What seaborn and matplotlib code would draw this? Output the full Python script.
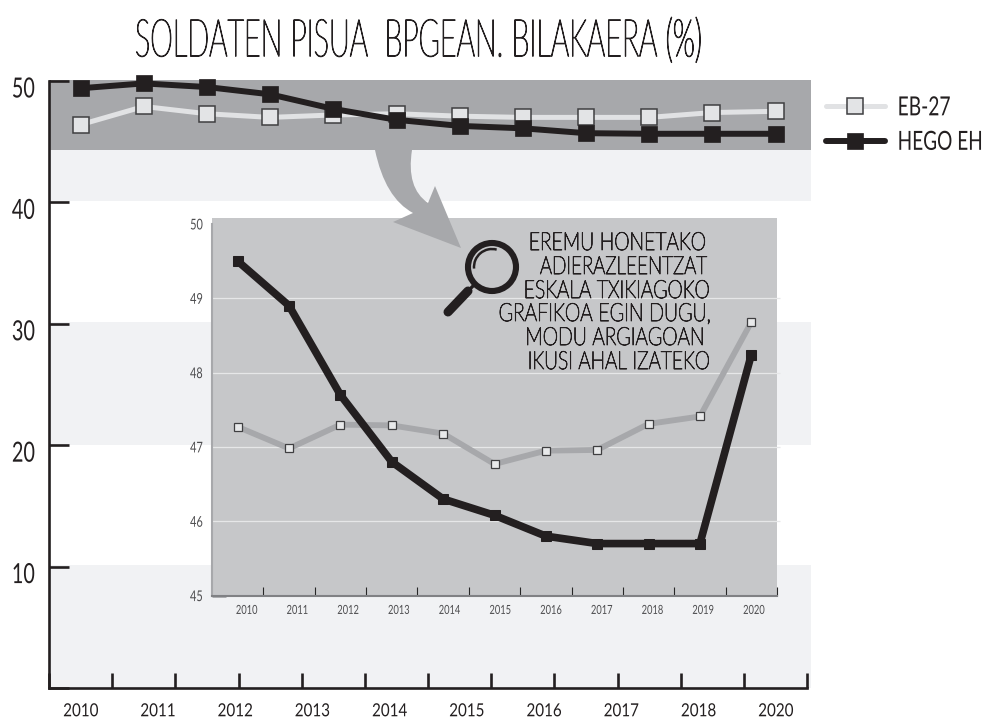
import matplotlib
matplotlib.use('Agg')
from matplotlib import pyplot as plt
from matplotlib.patches import Circle, Arc, PathPatch
from matplotlib.patheffects import AbstractPathEffect
from matplotlib.path import Path
from matplotlib.transforms import Affine2D, Bbox, ScaledTranslation
import numpy as np
import seaborn as sns

# Datuak
urteak_main = ['2010', '2011', '2012', '2013', '2014', '2015', '2016', '2017', '2018', '2020']
urteak_inset = ['2010', '2011', '2012', '2013', '2014', '2015', '2016', '2017', '2018', '2019', '2020']
eb_main = [46.4, 47.9, 47.3, 47.0, 47.2, 47.3, 47.1, 47.0, 47.0, 47.0, 47.4, 47.5]
hego_main = [49.4, 49.8, 49.5, 48.9, 47.7, 46.8, 46.3, 46.1, 45.7, 45.65, 45.65, 45.65]
eb_inset = [47.27, 46.98, 47.3, 47.29, 47.18, 46.77, 46.95, 46.96, 47.31, 47.41, 48.68]
hego_inset = [49.5, 48.9, 47.7, 46.8, 46.3, 46.08, 45.8, 45.7, 45.7, 45.7, 48.24]
titulua = 'SOLDATEN PISUA  BPGEAN. BILAKAERA (%)'
oharra = ['EREMU HONETAKO', 'ADIERAZLEENTZAT', 'ESKALA TXIKIAGOKO',
          'GRAFIKOA EGIN DUGU,', 'MODU ARGIAGOAN', 'IKUSI AHAL IZATEKO']

BELTZA = '#231f20'
GRISA = '#a7a8ab'
ARGIA = '#f1f2f4'
PANEL = '#c6c7c9'
ERTZA = '#3f3f41'
W, H = 986, 718

sns.set_theme(style='white')
plt.rcParams['font.family'] = ['Lato', 'DejaVu Sans']
plt.rcParams['text.color'] = BELTZA


class Estu(AbstractPathEffect):
    # letrak estutu (ez dago letra-tipo estuturik instalatuta)
    def __init__(self, fx, fy, aingura, lodi):
        super().__init__()
        self.fx = fx
        self.fy = fy
        self.aingura = aingura
        self.lodi = lodi

    def draw_path(self, renderer, gc, tpath, affine, rgbFace=None):
        b = tpath.get_extents(affine)
        x0 = b.x0 + self.aingura * b.width
        y0 = 0.5 * (b.y0 + b.y1)
        berria = affine + Affine2D().translate(-x0, -y0).scale(self.fx, self.fy).translate(x0, y0)
        gc0 = renderer.new_gc()
        gc0.copy_properties(gc)
        if self.lodi:
            gc0.set_linewidth(self.lodi)
            gc0.set_foreground(rgbFace)
        renderer.draw_path(gc0, tpath, berria, rgbFace)
        gc0.restore()


def estutu(t, zabalera, aingura, fy=1, lodi=0):
    # testua zabalera (px) horretara ekarri, testu erreala izaten jarraituz
    errenderra = fig.canvas.get_renderer()
    jatorrizkoa = t.get_window_extent
    f = zabalera / jatorrizkoa(errenderra).width
    t.set_path_effects([Estu(f, fy, aingura, lodi)])

    def hedadura(renderer=None, dpi=None):
        b = jatorrizkoa(renderer, dpi)
        x0 = b.x0 + aingura * b.width
        return Bbox.from_extents(x0 + (b.x0 - x0) * f, b.y0, x0 + (b.x1 - x0) * f, b.y1)

    t.get_window_extent = hedadura


def kutxa(x0, y_goi, x1, y_behe):
    # pixeletatik figura koordenatuetara
    return [x0 / W, 1 - y_behe / H, (x1 - x0) / W, (y_behe - y_goi) / H]


fig = plt.figure(figsize=(W / 100, H / 100), dpi=100)

# Grafiko nagusia
ax = fig.add_axes(kutxa(49, 80, 811, 688))
ax.set_xlim(0, 12.06)
ax.set_ylim(0, 50.08)
ax.axhspan(44.3, 50.08, color=GRISA, lw=0, zorder=0)
ax.axhspan(40.15, 44.3, color=ARGIA, lw=0, zorder=0)
ax.axhspan(20.0, 30.15, color=ARGIA, lw=0, zorder=0)
ax.axhspan(0, 10.13, color=ARGIA, lw=0, zorder=0)

x_main = np.arange(len(eb_main)) + 0.5
sns.lineplot(x=x_main, y=eb_main, ax=ax, color='#e1e2e4', linewidth=3.6, marker='s', markersize=11.5,
             markerfacecolor='#e3e4e6', markeredgecolor=ERTZA, markeredgewidth=1.1, clip_on=False,
             label='EB-27', legend=False, zorder=3)
sns.lineplot(x=x_main, y=hego_main, ax=ax, color=BELTZA, linewidth=4.3, marker='s', markersize=12,
             markerfacecolor=BELTZA, markeredgecolor=BELTZA, markeredgewidth=0.5, clip_on=False,
             label='HEGO EH', legend=False, zorder=4)

for s in ['top', 'right']:
    ax.spines[s].set_visible(False)
for s in ['left', 'bottom']:
    ax.spines[s].set_color(BELTZA)
    ax.spines[s].set_linewidth(1.9)
ax.spines['bottom'].set_bounds(0, 12)
ax.spines['left'].set_bounds(0, 50)

ax.set_yticks([0, 10, 20, 30, 40, 50], ['', '10', '20', '30', '40', '50'])
ax.set_xticks(np.arange(0, 13), [''] * 13)
ax.set_xticks(np.linspace(0.5, 11.5, len(urteak_main)), urteak_main, minor=True)
ax.tick_params(axis='y', direction='in', length=14.4, width=1.9, color=BELTZA, left=True,
               labelsize=20, pad=10, labelcolor=BELTZA)
ax.tick_params(axis='x', which='major', direction='in', length=10.8, width=1.9, color=BELTZA, bottom=True)
ax.tick_params(axis='x', which='minor', length=0, labelsize=13, pad=11, labelcolor=BELTZA)
jaitsi = ScaledTranslation(0, -6 / 100, fig.dpi_scale_trans)
for t in ax.get_yticklabels():
    t.set_transform(t.get_transform() + jaitsi)

leg = ax.legend(loc='upper left', bbox_to_anchor=(820 / W, 1 - 93 / H), bbox_transform=fig.transFigure,
                frameon=False, fontsize=14, handlelength=3.05, handletextpad=0.64, labelspacing=0.9,
                borderaxespad=0, borderpad=0.3)
for linea in leg.get_lines():
    linea.set_solid_capstyle('round')

# Barruko grafikoa
ax_in = fig.add_axes(kutxa(212, 218, 777, 595.6), facecolor=PANEL, zorder=2)
ax_in.set_xlim(0, 11)
ax_in.set_ylim(45, 50.08)
x_in = np.arange(len(eb_inset)) + 0.5
ax_in.hlines([46, 47, 48, 49], 0, 11.06, color='#e6e7e8', lw=0.9, clip_on=False, zorder=1)
ax_in.hlines(45, 0, 0.27, color=GRISA, lw=2, clip_on=False, zorder=1)
sns.lineplot(x=x_in, y=eb_inset, ax=ax_in, color=GRISA, linewidth=4.2, marker='s', markersize=6.2,
             markerfacecolor='#e8e9ea', markeredgecolor=ERTZA, markeredgewidth=0.9, clip_on=False, zorder=3)
sns.lineplot(x=x_in, y=hego_inset, ax=ax_in, color=BELTZA, linewidth=5.5, marker='s', markersize=6.5,
             markerfacecolor=BELTZA, markeredgecolor=BELTZA, clip_on=False, zorder=4)
ax_in.set_xlabel('')
for s in ['top', 'right']:
    ax_in.spines[s].set_visible(False)
ax_in.spines['left'].set_color(GRISA)
ax_in.spines['left'].set_linewidth(1.5)
ax_in.spines['left'].set_bounds(45, 50)
ax_in.spines['bottom'].set_color('#808184')
ax_in.spines['bottom'].set_linewidth(1.5)
ax_in.set_yticks([45, 46, 47, 48, 49, 50])
ax_in.set_xticks(np.arange(1, 12), [''] * 11)
ax_in.set_xticks(np.linspace(0.675, 10.55, len(urteak_inset)), urteak_inset, minor=True)
ax_in.tick_params(axis='y', length=0, labelsize=10.7, pad=6.5, labelcolor='#4d4d4f')
ax_in.tick_params(axis='x', which='major', direction='in', length=6.5, width=0.8, bottom=True)
ax_in.tick_params(axis='x', which='minor', length=0, labelsize=9, pad=6, labelcolor='#4d4d4f')
for i, tik in enumerate(ax_in.xaxis.get_major_ticks()):
    tik.tick1line.set_color(BELTZA if i == 0 or i >= 6 else GRISA)

# Gainjarritako geruza: gezia, lupa eta oharra (pixeletan)
top = fig.add_axes([0, 0, 1, 1], zorder=5)
top.set_xlim(0, W)
top.set_ylim(H, 0)
top.axis('off')
top.patch.set_alpha(0)

gezia = Path(
    [(375, 150), (385, 198), (413, 213), (393, 222), (461, 248), (435, 186), (428, 203),
     (406, 188), (412, 150), (375, 150)],
    [Path.MOVETO, Path.CURVE3, Path.CURVE3, Path.LINETO, Path.LINETO, Path.LINETO, Path.LINETO,
     Path.CURVE3, Path.CURVE3, Path.CLOSEPOLY])
top.add_patch(PathPatch(gezia, facecolor=GRISA, edgecolor='none', lw=0))

top.add_patch(Circle((492, 267), 24, fill=False, edgecolor=BELTZA, lw=4.4))
top.add_patch(Arc((492, 267), 36, 36, theta1=175, theta2=285, edgecolor=BELTZA, lw=1.8))
top.plot([474, 466], [285, 293], color=BELTZA, lw=2.4)
top.plot([468, 448], [291, 312], color=BELTZA, lw=6.5, solid_capstyle='round')

lerroak_x = [706, 707, 710, 711, 705, 710]
lerroak_y = [243, 267, 291, 314, 338, 362]
lerroak_w = [177, 167, 186, 212, 179, 182]
for testua, lx, ly, lw in zip(oharra, lerroak_x, lerroak_y, lerroak_w):
    t = top.text(lx, ly, testua, ha='right', va='center', fontsize=18, fontweight='light', color=BELTZA)
    estutu(t, lw, 1, lodi=0.65)

t = top.text(418.5, 42, titulua, ha='center', va='center', fontsize=30, fontweight='light', color=BELTZA)
estutu(t, 567, 0.5, fy=1.25, lodi=0.8)

# Ardatzetako eta legendako testuak estutu
fig.canvas.draw()
for t in ax.get_yticklabels():
    if t.get_text():
        estutu(t, 23, 1)
for t in ax.get_xticklabels(minor=True):
    estutu(t, 35, 0.5)
for t in ax_in.get_yticklabels():
    estutu(t, 12.7, 1)
for t in ax_in.get_xticklabels(minor=True):
    estutu(t, 21.6, 0.5)
for t, z in zip(leg.get_texts(), [53, 85]):
    estutu(t, z, 0, fy=19 / 14)

plt.savefig('out.png', dpi=100)
